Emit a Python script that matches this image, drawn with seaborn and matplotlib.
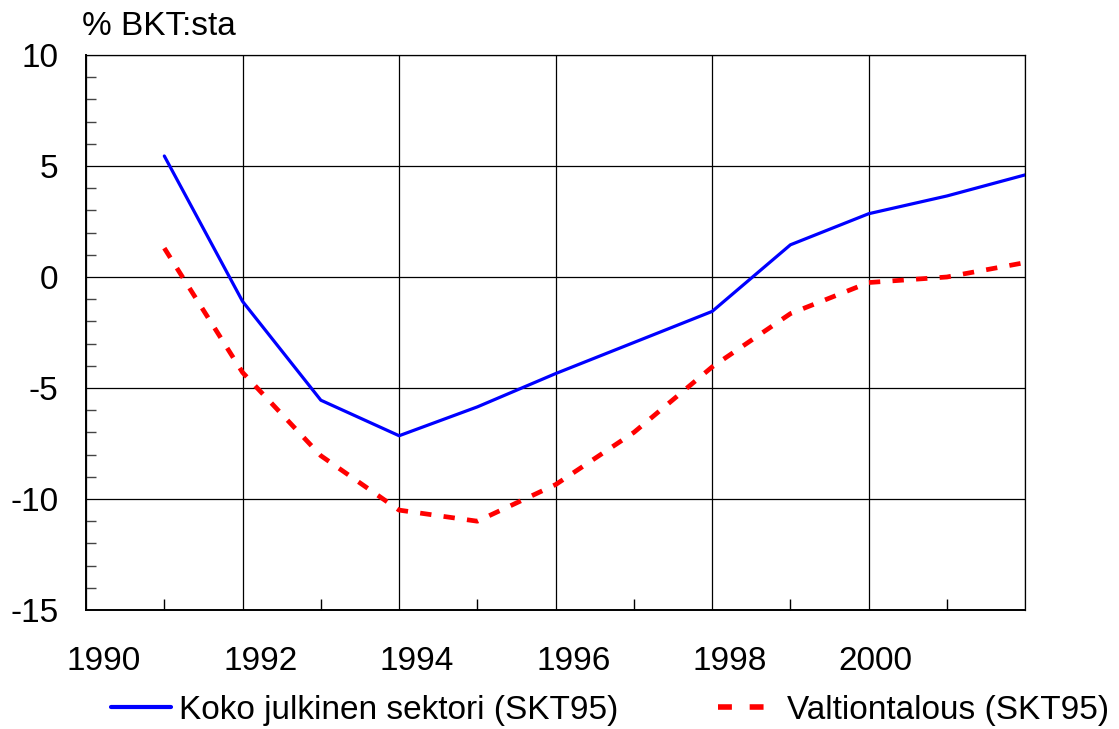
import pandas as pd
import matplotlib
matplotlib.use("Agg")
import matplotlib.pyplot as plt
import seaborn as sns
from matplotlib.ticker import MultipleLocator, FixedLocator

# values (% of GDP)
years = [1991, 1992, 1993, 1994, 1995, 1996, 1997, 1998, 1999, 2000, 2001, 2002]
koko = [5.45, -1.1, -5.55, -7.15, -5.85, -4.35, -2.95, -1.55, 1.45, 2.85, 3.65, 4.6]
valtio = [1.3, -4.3, -8.05, -10.5, -11.0, -9.35, -7.0, -4.05, -1.65, -0.25, 0.0, 0.65]
series_names = ["Koko julkinen sektori (SKT95)", "Valtiontalous (SKT95)"]

# year labels sit a bit right of the gridlines in the original
year_labels = ["1990", "1992", "1994", "1996", "1998", "2000"]
label_pos = [1990.22, 1992.23, 1994.22, 1996.23, 1998.22, 2000.09]

df = pd.DataFrame({
    "year": years * 2,
    "value": koko + valtio,
    "series": [series_names[0]] * len(years) + [series_names[1]] * len(years),
})

sns.set_style("white")
plt.rcParams['font.family'] = ['Liberation Sans', 'DejaVu Sans']
plt.rcParams['axes.unicode_minus'] = False
plt.rcParams['text.color'] = 'black'
plt.rcParams['xtick.color'] = 'black'
plt.rcParams['ytick.color'] = 'black'

fig = plt.figure(figsize=(11.19, 7.29), dpi=100)
ax = fig.add_axes([0.0769, 0.1632, 0.8393, 0.7614])

sns.lineplot(data=df, x="year", y="value", hue="series", style="series",
             palette=["#0000ff", "#ff0000"], dashes=[(None, None), (2.2, 2.6)],
             ax=ax, legend=False)
ax.lines[0].set_linewidth(2.3)
ax.lines[1].set_linewidth(3.4)
ax.lines[1].set_dashes((2.4, 2.6))

ax.set_xlim(1990, 2002)
ax.set_ylim(-15, 10)
ax.xaxis.set_major_locator(FixedLocator([1990, 1992, 1994, 1996, 1998, 2000, 2002]))
ax.set_xticklabels([])
ax.xaxis.set_minor_locator(FixedLocator([1991, 1993, 1995, 1997, 1999, 2001]))
ax.yaxis.set_major_locator(MultipleLocator(5))
ax.yaxis.set_minor_locator(MultipleLocator(1))

ax.grid(True, which="major", color="black", linewidth=0.9)
ax.set_axisbelow(True)
for s in ax.spines.values():
    s.set_color("black")
    s.set_linewidth(0.9)
ax.spines["bottom"].set_linewidth(1.4)
ax.spines["left"].set_linewidth(1.4)

ax.tick_params(bottom=True, left=True, which="both")
ax.tick_params(axis="x", which="major", direction="in", length=0)
ax.tick_params(axis="x", which="minor", direction="in", length=8, width=1)
ax.tick_params(axis="y", which="major", direction="in", length=0, pad=20, labelsize=24)
ax.tick_params(axis="y", which="minor", direction="in", length=7, width=1, color="#444444")

for lab, xp in zip(year_labels, label_pos):
    ax.text(xp, -0.092, lab, transform=ax.get_xaxis_transform(),
            ha="center", va="center", fontsize=24)

ax.set_xlabel("")
ax.set_ylabel("")
fig.text(0.073, 0.963, "% BKT:sta", fontsize=24, ha="left", va="center")

handles = [plt.Line2D([], [], color="#0000ff", linewidth=3),
           plt.Line2D([], [], color="#ff0000", linewidth=4, dashes=(2.5, 3.2))]
fig.legend(handles, series_names, loc="center", ncol=2, frameon=False,
           fontsize=24, bbox_to_anchor=(0.545, 0.026), columnspacing=3.0,
           handlelength=1.8, handletextpad=0.25, borderpad=0)

fig.savefig("out.png", dpi=100)
